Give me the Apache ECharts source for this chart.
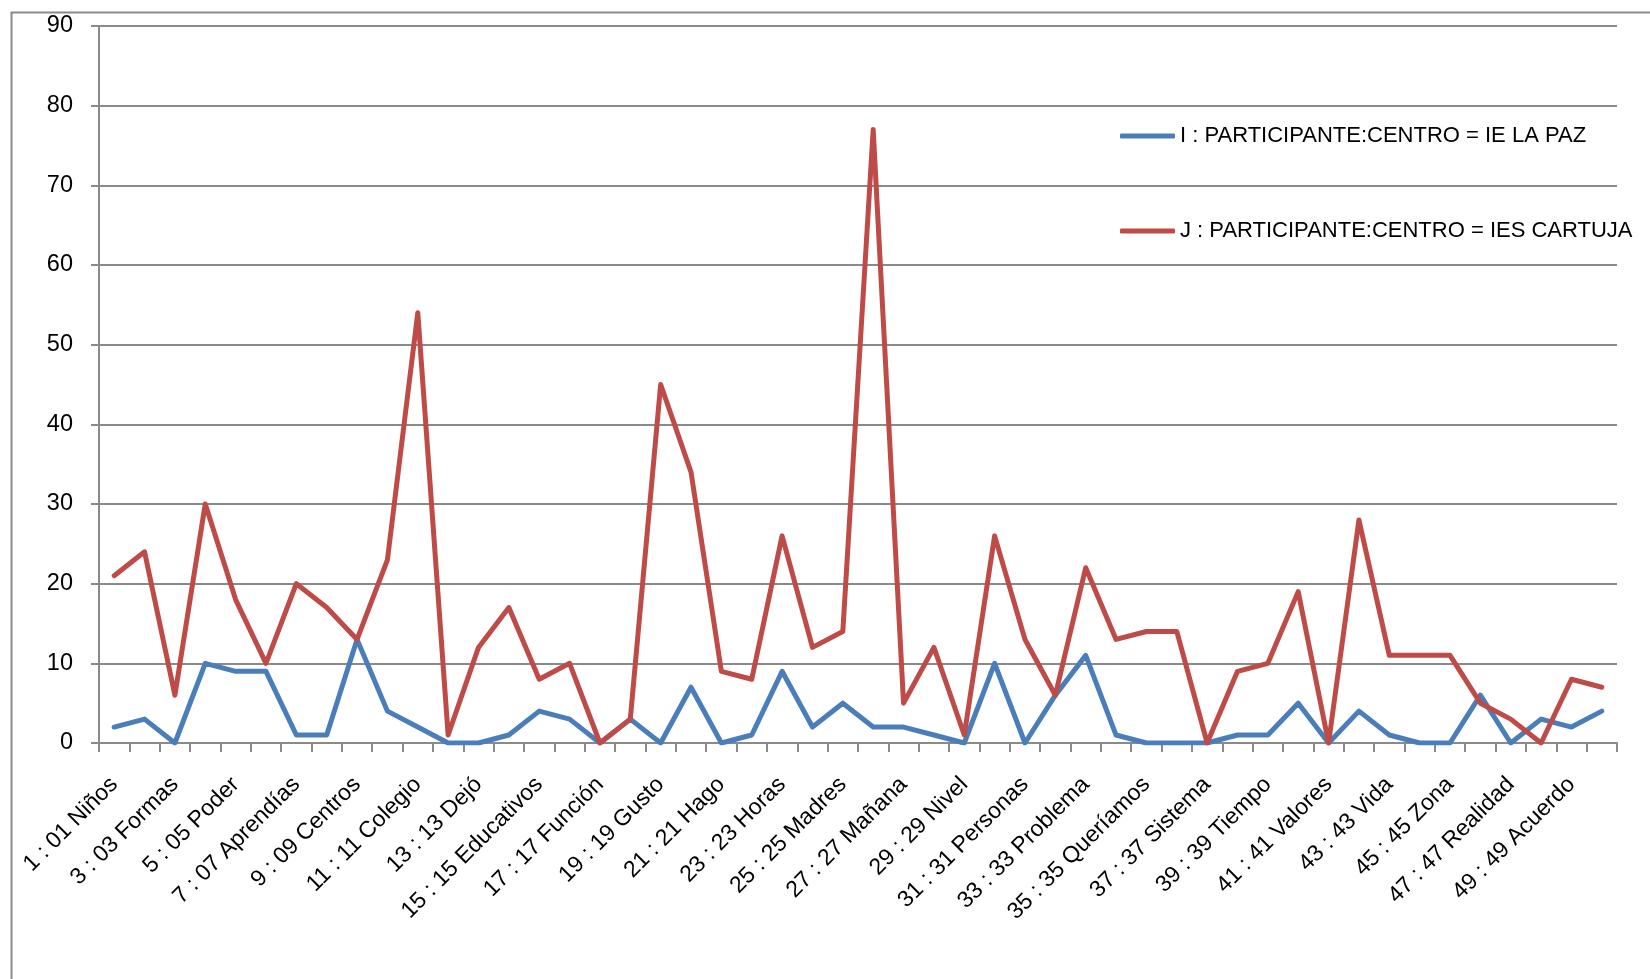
<!DOCTYPE html>
<html>
<head>
<meta charset="utf-8">
<script src="https://cdn.jsdelivr.net/npm/echarts@6/dist/echarts.min.js"></script>
<style>
  html, body { margin: 0; padding: 0; background: #ffffff; }
  #chart { width: 1650px; height: 979px; }
</style>
</head>
<body>
<div id="chart"></div>
<script>
// Category labels (only every other one is shown on the axis)
const categories = [
  '1 : 01 Niños', '2 : 02', '3 : 03 Formas', '4 : 04', '5 : 05 Poder', '6 : 06',
  '7 : 07 Aprendías', '8 : 08', '9 : 09 Centros', '10 : 10', '11 : 11 Colegio', '12 : 12',
  '13 : 13 Dejó', '14 : 14', '15 : 15 Educativos', '16 : 16', '17 : 17 Función', '18 : 18',
  '19 : 19 Gusto', '20 : 20', '21 : 21 Hago', '22 : 22', '23 : 23 Horas', '24 : 24',
  '25 : 25 Madres', '26 : 26', '27 : 27 Mañana', '28 : 28', '29 : 29 Nivel', '30 : 30',
  '31 : 31 Personas', '32 : 32', '33 : 33 Problema', '34 : 34', '35 : 35 Queríamos', '36 : 36',
  '37 : 37 Sistema', '38 : 38', '39 : 39 Tiempo', '40 : 40', '41 : 41 Valores', '42 : 42',
  '43 : 43 Vida', '44 : 44', '45 : 45 Zona', '46 : 46', '47 : 47 Realidad', '48 : 48',
  '49 : 49 Acuerdo', '50 : 50'
];

const seriesNames = [
  'I : PARTICIPANTE:CENTRO = IE LA PAZ',
  'J : PARTICIPANTE:CENTRO = IES CARTUJA'
];

const laPaz = [
  2, 3, 0, 10, 9, 9, 1, 1, 13, 4,
  2, 0, 0, 1, 4, 3, 0, 3, 0, 7,
  0, 1, 9, 2, 5, 2, 2, 1, 0, 10,
  0, 6, 11, 1, 0, 0, 0, 1, 1, 5,
  0, 4, 1, 0, 0, 6, 0, 3, 2, 4
];

const cartuja = [
  21, 24, 6, 30, 18, 10, 20, 17, 13, 23,
  54, 1, 12, 17, 8, 10, 0, 3, 45, 34,
  9, 8, 26, 12, 14, 77, 5, 12, 1, 26,
  13, 6, 22, 13, 14, 14, 0, 9, 10, 19,
  0, 28, 11, 11, 11, 5, 3, 0, 8, 7
];

const yMin = 0, yMax = 90, yStep = 10;

const FONT = '"Liberation Sans", Arial, sans-serif';
const GRID_GRAY = '#8a8a8a';
const BLUE = '#4A7EBB';
const RED = '#BE4B48';

const chart = echarts.init(document.getElementById('chart'), null, { renderer: 'canvas' });

const legendBase = {
  orient: 'vertical',
  left: 1115,
  itemWidth: 55,
  itemHeight: 5,
  icon: 'roundRect',
  selectedMode: false,
  textStyle: { fontFamily: FONT, fontSize: 22, color: '#000000', lineHeight: 24 }
};

chart.setOption({
  animation: false,
  backgroundColor: '#ffffff',
  textStyle: { fontFamily: FONT },
  graphic: [{
    // chart-area frame (only its top and left edges fall inside the canvas)
    type: 'rect',
    left: 9, top: 10,
    shape: { x: 0, y: 0, width: 1700, height: 1000 },
    style: { fill: null, stroke: GRID_GRAY, lineWidth: 2 },
    silent: true,
    z: 0
  }],
  grid: { left: 99, right: 33, top: 26, bottom: 236, containLabel: false },
  legend: [
    Object.assign({}, legendBase, { top: 119, data: [seriesNames[0]] }),
    Object.assign({}, legendBase, { top: 214, data: [seriesNames[1]] })
  ],
  xAxis: {
    type: 'category',
    data: categories,
    boundaryGap: true,
    axisLine: { lineStyle: { color: GRID_GRAY, width: 2 } },
    axisTick: { show: true, interval: 0, length: 9, lineStyle: { color: GRID_GRAY, width: 2 } },
    axisLabel: {
      interval: 1,
      rotate: 45,
      margin: 38,
      fontFamily: FONT,
      fontSize: 23,
      color: '#000000'
    },
    splitLine: { show: false }
  },
  yAxis: {
    type: 'value',
    min: yMin,
    max: yMax,
    interval: yStep,
    axisLine: { show: true, lineStyle: { color: GRID_GRAY, width: 2 } },
    axisTick: { show: true, length: 8, lineStyle: { color: GRID_GRAY, width: 2 } },
    axisLabel: { margin: 26, fontFamily: FONT, fontSize: 23.5, color: '#000000' },
    splitLine: { show: true, lineStyle: { color: GRID_GRAY, width: 2 } }
  },
  series: [
    {
      name: seriesNames[0],
      type: 'line',
      data: laPaz,
      showSymbol: false,
      symbol: 'none',
      color: BLUE,
      lineStyle: { color: BLUE, width: 5, cap: 'round', join: 'round' },
      itemStyle: { color: BLUE },
      z: 3
    },
    {
      name: seriesNames[1],
      type: 'line',
      data: cartuja,
      showSymbol: false,
      symbol: 'none',
      color: RED,
      lineStyle: { color: RED, width: 5, cap: 'round', join: 'round' },
      itemStyle: { color: RED },
      z: 4
    }
  ]
});
</script>
</body>
</html>
